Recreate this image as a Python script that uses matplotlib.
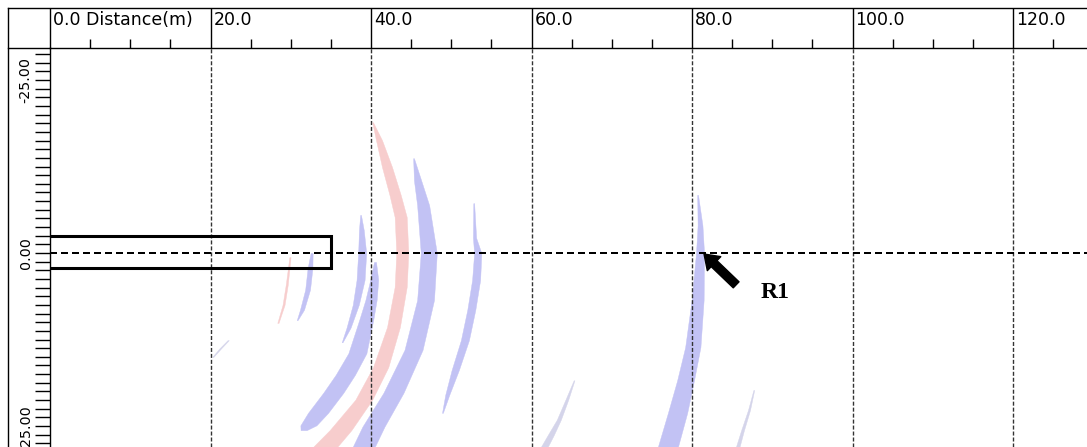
import numpy as np
import matplotlib
matplotlib.use('Agg')
import matplotlib.pyplot as plt
from matplotlib.lines import Line2D
from matplotlib.patches import Rectangle

# distance ticks along the top (m) and depth ticks on the left (m)
dist_major = [0, 20, 40, 60, 80, 100, 120]
dist_labels = ['0.0 Distance(m)', '20.0', '40.0', '60.0', '80.0', '100.0', '120.0']
depth_major = [-25, 0, 25]
depth_labels = ['-25.00', '0.00', '25.00']

# borehole box (m)
box_x = [-2.0, 35.0]
box_y = [-2.4, 2.2]

# reflection arcs: centre line (distance, depth) and horizontal thickness, all in m
pink_main_x = [40.2, 41.0, 42.0, 43.0, 43.7, 43.9, 43.7, 42.8, 41.2, 39.1, 36.2, 34.3]
pink_main_y = [-18.9, -16.3, -12.4, -8.4, -5.2, 0.0, 4.9, 10.7, 16.5, 21.2, 25.6, 28.0]
pink_main_t = [0.1, 0.75, 1.25, 1.4, 1.5, 1.5, 1.5, 1.6, 1.9, 2.1, 2.7, 3.0]

blue_outer_x = [45.3, 45.8, 46.5, 47.2, 46.8, 45.3, 42.8, 40.3, 39.1]
blue_outer_y = [-13.7, -10.5, -6.9, 0.0, 6.8, 14.0, 20.2, 25.1, 28.0]
blue_outer_t = [0.1, 0.9, 1.5, 2.0, 2.1, 2.25, 2.5, 2.75, 2.75]

blue_inner_x = [40.5, 40.4, 40.0, 39.4, 38.3, 36.8, 35.3, 33.4, 32.2, 31.6]
blue_inner_y = [1.3, 3.9, 6.8, 9.7, 14.5, 17.6, 20.2, 23.1, 24.9, 25.6]
blue_inner_t = [0.25, 1.0, 1.4, 1.75, 2.25, 2.4, 2.5, 2.5, 2.0, 0.75]

blue_short_x = [38.7, 38.8, 38.9, 38.7, 38.1, 37.2, 36.4]
blue_short_y = [-5.5, -3.3, 0.0, 3.9, 7.5, 10.8, 12.9]
blue_short_t = [0.1, 0.6, 1.0, 1.0, 0.75, 0.5, 0.1]

blue_box_x = [32.6, 32.4, 32.1, 31.4, 30.8]
blue_box_y = [0.0, 2.2, 5.3, 8.2, 9.7]
blue_box_t = [0.25, 0.6, 0.6, 0.5, 0.1]

pink_thin_x = [29.9, 29.5, 29.1, 28.4]
pink_thin_y = [0.6, 4.6, 7.5, 10.1]
pink_thin_t = [0.15, 0.25, 0.25, 0.15]

grey_tick_x = [22.2, 21.2, 20.3]
grey_tick_y = [12.6, 13.8, 15.0]
grey_tick_t = [0.15, 0.2, 0.15]

blue_far_x = [52.8, 52.9, 53.3, 53.1, 52.5, 51.7, 50.5, 49.5, 48.9]
blue_far_y = [-7.2, -2.2, 0.0, 3.9, 8.2, 12.6, 16.9, 20.5, 23.1]
blue_far_t = [0.1, 0.4, 0.9, 1.0, 1.0, 1.0, 0.9, 0.5, 0.1]

blue_r1_x = [80.7, 81.0, 81.0, 80.7, 80.1, 79.2, 78.2, 77.0]
blue_r1_y = [-8.4, -4.0, 0.0, 6.8, 13.6, 18.4, 23.1, 28.0]
blue_r1_t = [0.1, 0.6, 1.0, 1.5, 1.9, 2.1, 2.4, 2.5]

blue_low1_x = [65.3, 64.4, 63.4, 62.4, 61.6]
blue_low1_y = [18.4, 21.2, 24.1, 26.3, 28.0]
blue_low1_t = [0.1, 0.35, 0.5, 0.75, 0.85]

blue_low2_x = [87.7, 87.1, 86.3, 85.7]
blue_low2_y = [19.8, 22.7, 25.6, 28.0]
blue_low2_t = [0.1, 0.25, 0.35, 0.45]

# R1 marker: arrow tail -> tip, and label position
r1_tail = (85.5, 4.6)
r1_tip = (81.5, 0.15)
r1_label = (90.4, 5.7)

BLUE = '#c2c2f4'
PINK = '#f7cdcd'
FAINT = '#d4d4ea'

W, H = 1087, 447
fig = plt.figure(figsize=(W / 100, H / 100), dpi=100)
ax = fig.add_axes([50 / W, 0, (W - 50) / W, (H - 48) / H])

px_per_m = 8.025
ax.set_xlim(0, (W - 50) / px_per_m)
ax.set_ylim((H - 253) / 6.92, -(253 - 48) / 6.92)

arcs = [
  (pink_main_x, pink_main_y, pink_main_t, PINK),
  (blue_outer_x, blue_outer_y, blue_outer_t, BLUE),
  (blue_inner_x, blue_inner_y, blue_inner_t, BLUE),
  (blue_short_x, blue_short_y, blue_short_t, BLUE),
  (blue_box_x, blue_box_y, blue_box_t, BLUE),
  (pink_thin_x, pink_thin_y, pink_thin_t, PINK),
  (grey_tick_x, grey_tick_y, grey_tick_t, FAINT),
  (blue_far_x, blue_far_y, blue_far_t, BLUE),
  (blue_r1_x, blue_r1_y, blue_r1_t, BLUE),
  (blue_low1_x, blue_low1_y, blue_low1_t, FAINT),
  (blue_low2_x, blue_low2_y, blue_low2_t, FAINT),
]
for xs, ys, ts, col in arcs:
  xs, ys, ts = np.array(xs), np.array(ys), np.array(ts)
  ax.fill_betweenx(ys, xs - ts / 2, xs + ts / 2, color=col, lw=0.3, edgecolor=col, zorder=1)

# grid: fine dashed verticals, heavier dashed line at depth 0
for d in dist_major[1:]:
  ax.axvline(d, color='#333333', lw=1.0, linestyle=(0, (2.9, 1.4)), zorder=2)
ax.axhline(0, color='black', lw=1.44, linestyle=(0, (3.5, 2.0)), zorder=2)

ax.add_patch(Rectangle((box_x[0], box_y[0]), box_x[1] - box_x[0], box_y[1] - box_y[0],
                       fill=False, edgecolor='black', lw=2.2, zorder=3))

ax.annotate('', xy=r1_tip, xytext=r1_tail,
            arrowprops=dict(facecolor='black', edgecolor='black', width=6.0,
                            headwidth=14, headlength=10, shrink=0), zorder=4)
ax.text(r1_label[0], r1_label[1], 'R1', fontfamily='Liberation Serif', fontweight='bold',
        fontsize=17, ha='center', va='center', zorder=4)

# top ruler: long major ticks form the header separators
ax.xaxis.tick_top()
ax.set_xticks(dist_major)
ax.set_xticks(np.arange(5, 130, 5), minor=True)
ax.set_xticklabels([])
ax.tick_params(axis='x', which='major', direction='out', length=28.8, width=1.0, color='black')
ax.tick_params(axis='x', which='minor', direction='out', length=6.5, width=1.0, color='black')
for d, lab in zip(dist_major, dist_labels):
  ax.annotate(lab, xy=(d, 1), xycoords=('data', 'axes fraction'), xytext=(2.2, 16.6),
              textcoords='offset points', ha='left', va='baseline',
              fontfamily='DejaVu Sans', fontsize=12.5, annotation_clip=False)

# left ruler
ax.set_yticks(depth_major)
ax.set_yticklabels(depth_labels, rotation=90, va='center', fontfamily='DejaVu Sans', fontsize=10.3)
ax.set_yticks(np.arange(-28.75, 28, 1.25), minor=True)
ax.tick_params(axis='y', which='both', direction='out', length=10.5, width=1.0, color='black', pad=2)

for s in ['right', 'bottom']:
  ax.spines[s].set_visible(False)
for s in ['top', 'left']:
  ax.spines[s].set_linewidth(1.0)

# outer frame pieces
fig.add_artist(Line2D([8 / W, 1], [(H - 8) / H] * 2, color='black', lw=1.0))
fig.add_artist(Line2D([8 / W] * 2, [0, (H - 8) / H], color='black', lw=1.0))
fig.add_artist(Line2D([8 / W, 50 / W], [(H - 48) / H] * 2, color='black', lw=1.0))

fig.savefig('out.png', dpi=100)
